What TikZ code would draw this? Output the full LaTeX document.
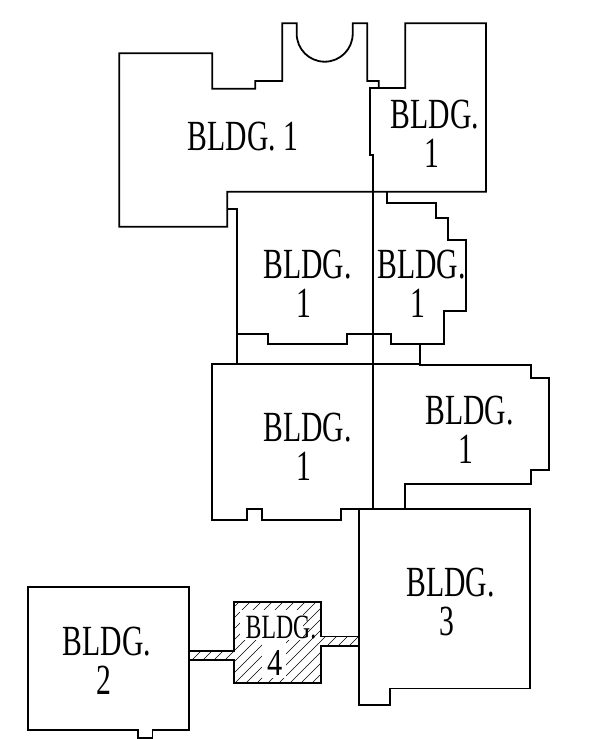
\documentclass[tikz,border=0pt]{standalone}
\usepackage{fontspec}
\setmainfont{Liberation Serif}
\newcommand{\twolines}[2]{\scalebox{0.69}[1]{\begin{tabular}[t]{@{}c@{}}#1\\#2\rule{10pt}{0pt}\end{tabular}}}
\tikzset{
  wall/.style={draw=black,line width=1.8pt,line join=miter,line cap=butt},
  hatchline/.style={draw=black,line width=0.6pt},
  maskbox/.style={fill=white,draw=none},
  bigtext/.style={anchor=base,inner sep=0pt,font=\fontsize{43}{36}\selectfont},
  midtext/.style={anchor=base,inner sep=0pt,font=\fontsize{34}{34}\selectfont},
  fourtext/.style={anchor=base,inner sep=0pt,font=\fontsize{38}{38}\selectfont}
}
\begin{document}
\begin{tikzpicture}[x=1pt,y=-1pt]
\useasboundingbox (0,0) rectangle (590,739);
\fill[white] (0,0) rectangle (590,739);
% hatching of building 4 and its corridors
\begin{scope}
\clip (189,650.6) -- (233.6,650.6) -- (233.6,601.6) -- (320.7,601.6) -- (320.7,636.4) -- (359,636.4) -- (359,645.9) -- (320.7,645.9) -- (320.7,683) -- (233.6,683) -- (233.6,660) -- (189,660) -- cycle;
\foreach \c in {830,841,...,1010}{
  \draw[hatchline] (\c-700,700) -- (\c-580,580);
}
\fill[maskbox] (240,610) rectangle (303,640);
\fill[maskbox] (262,640) rectangle (286,678);
\end{scope}
% building 1, upper mass
\draw[wall] (119.3,53.3) -- (212.3,53.3) -- (212.3,88.7) -- (255.3,88.7) -- (255.3,81) -- (282.3,81) -- (282.3,23.3) -- (296.7,23.3) -- (296.7,33.7)
  .. controls (296.7,49.2) and (309.2,61.7) .. (324.7,61.7)
  .. controls (340.2,61.7) and (352.7,49.2) .. (352.7,33.7)
  -- (352.7,23.3) -- (367.3,23.3) -- (367.3,81) -- (378.7,81) -- (378.7,88) -- (405.3,88) -- (405.3,23.3) -- (486,23.3) -- (486,191.7) -- (227.3,191.7) -- (227.3,226.7) -- (119.3,226.7) -- cycle;
\draw[wall] (378.7,88) -- (370,88) -- (370,155.3) -- (373,155.3) -- (373,508.5);
% second row
\draw[wall] (227.3,209) -- (236.7,209) -- (236.7,364);
\draw[wall] (387.3,191.7) -- (387.3,202.7) -- (435.7,202.7) -- (435.7,218) -- (447.7,218) -- (447.7,240) -- (466,240) -- (466,310.7) -- (444,310.7) -- (444,343.7) -- (390.7,343.7) -- (390.7,334.3) -- (346.7,334.3) -- (346.7,343.7) -- (268,343.7) -- (268,334.3) -- (236.7,334.3);
% third row
\draw[wall] (420.3,343.7) -- (420.3,365) -- (530.7,365) -- (530.7,378.3) -- (549,378.3) -- (549,470) -- (530.7,470) -- (530.7,484) -- (404.7,484) -- (404.7,509);
\draw[wall] (420.3,364) -- (212,364) -- (212,519.7) -- (247,519.7) -- (247,509) -- (262,509) -- (262,519.7) -- (341,519.7) -- (341,509) -- (359,509);
% building 3
\draw[wall] (359,509) -- (530,509) -- (530,688.4) -- (390.3,688.4) -- (390.3,704.6) -- (359,704.6) -- cycle;
% building 2
\draw[wall] (28.2,587) -- (189,587) -- (189,729.6) -- (152.5,729.6) -- (152.5,738) -- (138.3,738) -- (138.3,729.6) -- (28.2,729.6) -- cycle;
% building 4 with corridors
\draw[wall] (189,650.6) -- (233.6,650.6) -- (233.6,601.6) -- (320.7,601.6) -- (320.7,636.4) -- (359,636.4);
\draw[wall] (359,645.9) -- (320.7,645.9) -- (320.7,683) -- (233.6,683) -- (233.6,660) -- (189,660);
% labels
\node[bigtext] (a) at (243,150) {\scalebox{0.69}[1]{BLDG. 1}};
\node[bigtext] (b) at (435,128) {\twolines{BLDG.}{1}};
\node[bigtext] (c) at (307.5,278) {\twolines{BLDG.}{1}};
\node[bigtext] (d) at (421.5,278) {\twolines{BLDG.}{1}};
\node[bigtext] (e) at (307.5,441.7) {\twolines{BLDG.}{1}};
\node[bigtext] (f) at (469.5,424) {\twolines{BLDG.}{1}};
\node[bigtext] (g) at (450.5,596) {\twolines{BLDG.}{3}};
\node[bigtext] (h) at (107,655) {\twolines{BLDG.}{2}};
\node[midtext] (i) at (281,638.5) {\scalebox{0.70}[1]{BLDG.}};
\node[fourtext] (j) at (275,675.6) {\scalebox{0.8}[1]{4}};
\end{tikzpicture}
\end{document}
